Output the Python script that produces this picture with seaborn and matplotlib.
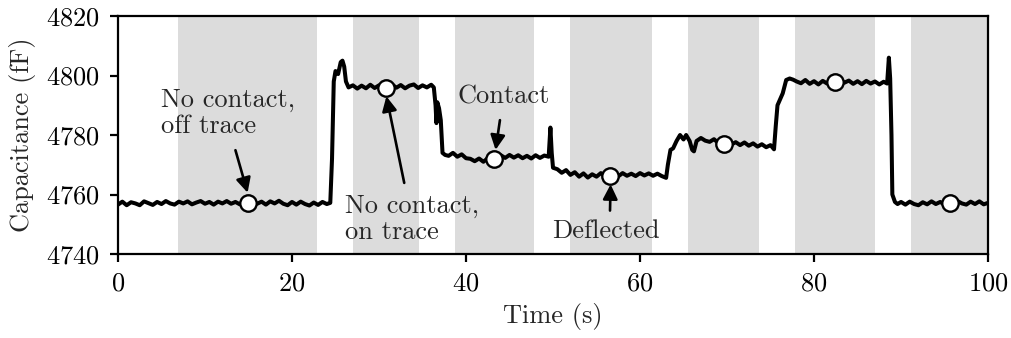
import matplotlib
matplotlib.use("Agg")
import matplotlib.pyplot as plt
import seaborn as sns
import pandas as pd

# ---- data ----
time_s = [0.0, 0.5, 1.0, 1.5, 2.0, 2.5, 3.0, 3.5, 4.0, 4.5, 5.0, 5.5, 6.0, 6.5, 7.0, 7.5,
          8.0, 8.5, 9.0, 9.5, 10.0, 10.5, 11.0, 11.5, 12.0, 12.5, 13.0, 13.5, 14.0, 14.5,
          15.0, 15.5, 16.0, 16.5, 17.0, 17.5, 18.0, 18.5, 19.0, 19.5, 20.0, 20.5, 21.0,
          21.5, 22.0, 22.5, 23.0, 23.5, 24.0, 24.4, 24.6, 24.8, 25.0, 25.3, 25.6, 25.8,
          26.0, 26.2, 26.5, 27.0, 27.5, 28.0, 28.5, 29.0, 29.5, 30.0, 30.5, 31.0, 31.5,
          32.0, 32.5, 33.0, 33.5, 34.0, 34.5, 35.0, 35.5, 36.0, 36.3, 36.5, 36.6, 36.7,
          36.9, 37.1, 37.3, 37.6, 38.0, 38.5, 39.0, 39.5, 40.0, 40.5, 41.0, 41.5, 42.0,
          42.5, 43.0, 43.5, 44.0, 44.5, 45.0, 45.5, 46.0, 46.5, 47.0, 47.5, 48.0, 48.5,
          49.0, 49.5, 49.7, 49.85, 50.0, 50.5, 51.0, 51.5, 52.0, 52.5, 53.0, 53.5, 54.0,
          54.5, 55.0, 55.5, 56.0, 56.5, 57.0, 57.5, 58.0, 58.5, 59.0, 59.5, 60.0, 60.5,
          61.0, 61.5, 62.0, 62.5, 63.0, 63.2, 63.5, 63.8, 64.2, 64.6, 65.0, 65.3, 65.7,
          66.0, 66.2, 66.5, 67.0, 67.5, 68.0, 68.5, 69.0, 69.5, 70.0, 70.5, 71.0, 71.5,
          72.0, 72.5, 73.0, 73.5, 74.0, 74.5, 75.0, 75.4, 75.6, 75.8, 76.1, 76.4, 76.8,
          77.2, 77.6, 78.0, 78.5, 79.0, 79.5, 80.0, 80.5, 81.0, 81.5, 82.0, 82.5, 83.0,
          83.5, 84.0, 84.5, 85.0, 85.5, 86.0, 86.5, 87.0, 87.5, 88.0, 88.4, 88.6, 88.75,
          88.9, 89.0, 89.3, 89.6, 90.0, 90.5, 91.0, 91.5, 92.0, 92.5, 93.0, 93.5, 94.0,
          94.5, 95.0, 95.5, 96.0, 96.5, 97.0, 97.5, 98.0, 98.5, 99.0, 99.5, 100.0]

capacitance_fF = [4756.6, 4757.6, 4756.4, 4757.4, 4757.0, 4756.4, 4757.7, 4757.1, 4756.5,
                  4757.5, 4756.8, 4757.8, 4757.0, 4756.6, 4757.6, 4757.0, 4757.7, 4756.7,
                  4757.3, 4757.8, 4756.9, 4757.5, 4756.6, 4757.6, 4757.0, 4757.8, 4756.9,
                  4757.5, 4756.7, 4757.7, 4757.2, 4757.8, 4756.9, 4757.6, 4756.6, 4757.7,
                  4757.0, 4757.9, 4756.9, 4756.4, 4757.5, 4756.6, 4757.6, 4756.8, 4756.3,
                  4757.3, 4756.5, 4757.5, 4756.8, 4757.2, 4772.0, 4798.0, 4801.5, 4800.5,
                  4804.5, 4805.0, 4803.0, 4798.0, 4796.0, 4796.7, 4795.6, 4796.6, 4795.7,
                  4796.9, 4795.8, 4796.7, 4795.5, 4796.5, 4797.0, 4795.9, 4796.8, 4795.7,
                  4796.6, 4797.0, 4795.8, 4796.7, 4796.0, 4796.9, 4796.0, 4790.0, 4784.0,
                  4791.0, 4789.0, 4785.0, 4774.0, 4773.3, 4773.0, 4774.0, 4772.7, 4773.5,
                  4772.2, 4772.0, 4771.2, 4772.1, 4771.0, 4772.2, 4772.4, 4772.0, 4773.2,
                  4772.3, 4773.3, 4772.4, 4773.2, 4772.2, 4773.0, 4772.1, 4773.2, 4772.3,
                  4773.1, 4772.7, 4782.5, 4774.0, 4769.0, 4768.5, 4767.3, 4768.2, 4766.6,
                  4767.5, 4766.0, 4767.1, 4765.7, 4766.8, 4766.0, 4767.2, 4766.2, 4765.7,
                  4766.8, 4766.1, 4767.2, 4766.3, 4767.0, 4766.2, 4767.2, 4766.4, 4767.1,
                  4766.3, 4767.0, 4766.2, 4765.6, 4770.0, 4775.0, 4775.5, 4778.0, 4780.0,
                  4778.5, 4780.0, 4778.0, 4775.0, 4774.5, 4778.0, 4779.0, 4778.1, 4777.7,
                  4778.6, 4777.3, 4777.2, 4778.0, 4776.8, 4777.6, 4776.6, 4777.5, 4776.4,
                  4777.2, 4776.1, 4776.9, 4775.9, 4776.6, 4775.2, 4783.0, 4790.0, 4792.0,
                  4794.0, 4798.5, 4799.0, 4798.6, 4798.0, 4797.4, 4798.5, 4797.2, 4798.1,
                  4797.0, 4798.2, 4797.3, 4798.4, 4797.5, 4798.6, 4797.6, 4798.3, 4797.2,
                  4798.1, 4797.1, 4798.2, 4797.3, 4798.0, 4797.0, 4797.9, 4797.3, 4806.0,
                  4799.0, 4780.0, 4760.0, 4757.5, 4756.8, 4757.5, 4756.6, 4757.6, 4756.8,
                  4756.4, 4757.4, 4756.7, 4757.7, 4756.8, 4757.5, 4756.6, 4757.6, 4756.8,
                  4757.8, 4757.0, 4756.6, 4757.6, 4756.8, 4757.7, 4756.7, 4757.2]

marker_time_s = [14.9, 30.8, 43.2, 56.6, 69.6, 82.4, 95.6]
marker_cap_fF = [4757.3, 4795.9, 4772.1, 4766.2, 4777.1, 4797.8, 4757.3]

band_start_s = [6.9, 27.0, 38.7, 52.0, 65.5, 77.8, 91.1]
band_end_s = [22.9, 34.6, 47.8, 61.4, 73.7, 87.0, 100.0]

x_ticks = [0, 20, 40, 60, 80, 100]
y_ticks = [4740, 4760, 4780, 4800, 4820]

# ---- style ----
sns.set_style("ticks")
plt.rcParams["font.family"] = ["cmr10", "DejaVu Serif"]
plt.rcParams["mathtext.fontset"] = "cm"
plt.rcParams["axes.formatter.use_mathtext"] = True
plt.rcParams["axes.unicode_minus"] = False
plt.rcParams["font.size"] = 19

trace = pd.DataFrame({"t": time_s, "c": capacitance_fF})
marks = pd.DataFrame({"t": marker_time_s, "c": marker_cap_fF})

fig = plt.figure(figsize=(10.11, 3.38), dpi=100)
ax = fig.add_axes([0.1167, 0.2485, 0.8606, 0.7041])

for s, e in zip(band_start_s, band_end_s):
    ax.axvspan(s, e, color="#dcdcdc", lw=0, zorder=0)

sns.lineplot(data=trace, x="t", y="c", ax=ax, color="black", lw=2.9,
             estimator=None, sort=False, zorder=2)
sns.scatterplot(data=marks, x="t", y="c", ax=ax, s=140, facecolor="white",
                edgecolor="black", linewidth=1.7, zorder=4)

ax.set_xlim(0, 100)
ax.set_ylim(4740, 4820)
ax.set_xticks(x_ticks)
ax.set_yticks(y_ticks)
ax.set_xlabel("Time (s)", labelpad=5)
ax.set_ylabel("Capacitance (fF)", labelpad=7)
for sp in ax.spines.values():
    sp.set_linewidth(1.6)
    sp.set_color("black")
ax.tick_params(direction="out", length=6, width=1.6, pad=7, labelsize=19, colors="black")

arrow = dict(arrowstyle="-|>", color="black", lw=1.9, mutation_scale=22,
             shrinkA=0, shrinkB=0)

def note(tail, head):
    ax.annotate("", xy=head, xytext=tail, arrowprops=arrow, zorder=5)

ax.text(5.0, 4795.8, "No contact,\noff trace", ha="left", va="top", linespacing=1.12)
note((13.5, 4774.9), (14.9, 4760.6))

ax.text(26.1, 4760.2, "No contact,\non trace", ha="left", va="top", linespacing=1.12)
note((32.9, 4763.9), (30.85, 4793.0))

ax.text(44.3, 4796.8, "Contact", ha="center", va="top")
note((43.9, 4785.0), (43.4, 4775.0))

ax.text(56.1, 4751.6, "Deflected", ha="center", va="top")
note((56.55, 4754.6), (56.62, 4763.4))

fig.savefig("out.png", dpi=100)
